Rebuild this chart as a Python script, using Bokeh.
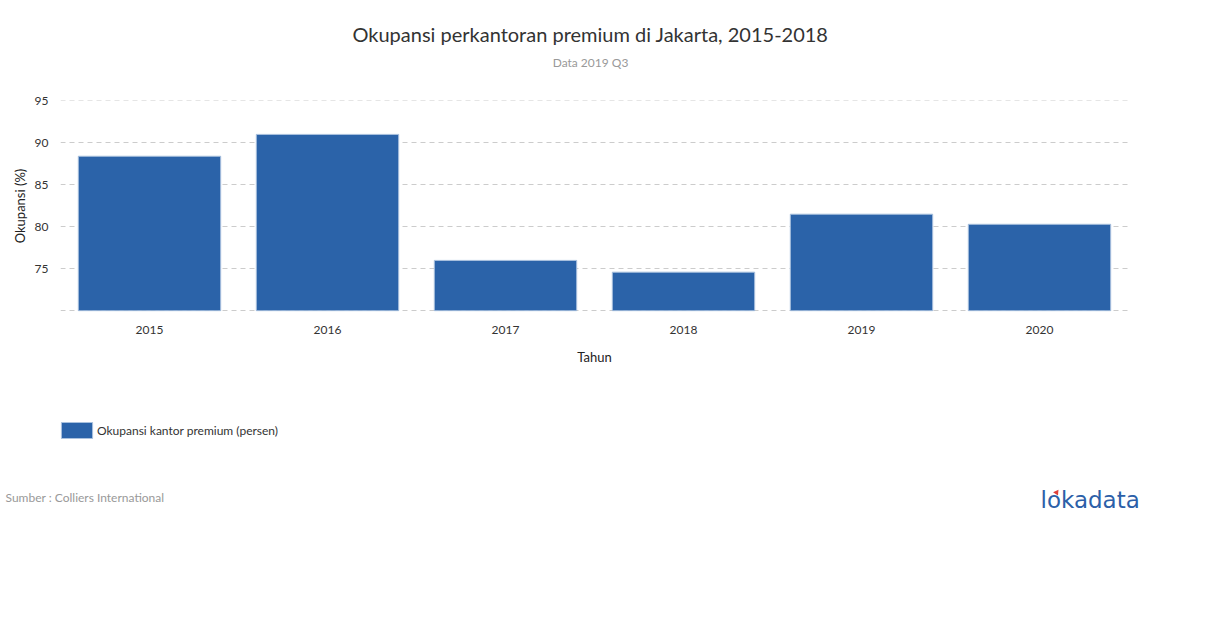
from bokeh.plotting import figure
from bokeh.models import Label, Legend, LegendItem, ColumnDataSource, FixedTicker
from bokeh.layouts import column
from bokeh.embed import file_html
from bokeh.resources import INLINE

years = ["2015", "2016", "2017", "2018", "2019", "2020"]
occupancy = [88.4, 91.0, 76.0, 74.6, 81.5, 80.3]
y_ticks = [70, 75, 80, 85, 90, 95]

FONT = "Lato"
BAR = "#2b63a9"
EDGE = "#a9c1de"
W = 1210

def text_fig(height, y0, y1):
    f = figure(width=W, height=height, x_range=(0, W), y_range=(y1, y0),
               x_axis_type=None, y_axis_type=None, output_backend="svg",
               toolbar_location=None, min_border=0,
               min_border_left=0, min_border_right=0, min_border_top=0, min_border_bottom=0)
    f.outline_line_color = None
    f.xgrid.grid_line_color = None
    f.ygrid.grid_line_color = None
    return f

def lab(f, x, y, text, size, color, align="left", font=FONT):
    f.add_layout(Label(x=x, y=y, text=text, text_font=font, text_font_size=size,
                       text_color=color, text_align=align, text_baseline="middle"))

# ---- top texts (page y 0..90)
top = text_fig(90, 0, 90)
lab(top, 590, 33, "Okupansi perkantoran premium di Jakarta, 2015-2018", "20px", "#333333", "center")
lab(top, 590, 62, "Data 2019 Q3", "12px", "#999999", "center")

# ---- chart (page y 90..391, frame 100..311)
src = ColumnDataSource(dict(x=years, top=occupancy))
p = figure(width=W, height=301, x_range=years, y_range=(69.917, 95.036),
           output_backend="svg", toolbar_location=None,
           min_border_left=60, min_border_right=W - 1128,
           min_border_top=10, min_border_bottom=80)
p.outline_line_color = None
p.vbar(x="x", top="top", bottom=70, width=0.8, source=src,
       fill_color=BAR, line_color=EDGE, line_width=1)

p.xgrid.grid_line_color = None
p.ygrid.grid_line_color = "#cccccc"
p.ygrid.grid_line_dash = "5 4"
p.ygrid.ticker = FixedTicker(ticks=y_ticks)

p.yaxis.ticker = FixedTicker(ticks=y_ticks)
p.yaxis.major_label_overrides = {70: ""}
for ax in (p.xaxis[0], p.yaxis[0]):
    ax.axis_line_color = None
    ax.major_tick_line_color = None
    ax.minor_tick_line_color = None
    ax.major_tick_out = 0
    ax.major_tick_in = 0
    ax.major_label_text_font = FONT
    ax.major_label_text_font_size = "12px"
    ax.major_label_text_color = "#333333"
    ax.axis_label_text_font = FONT
    ax.axis_label_text_font_size = "13px"
    ax.axis_label_text_font_style = "normal"
    ax.axis_label_text_color = "#222222"
p.yaxis.major_label_standoff = 12
p.xaxis.major_label_standoff = 14
p.yaxis.axis_label = "Okupansi (%)"
p.xaxis.axis_label = "Tahun"
p.yaxis.axis_label_standoff = 4
p.xaxis.axis_label_standoff = 12

# ---- bottom texts and legend (page y 391..628)
bot = text_fig(237, 391, 628)
swatch = bot.vbar(x=[5000], top=[5000], bottom=[4990], width=1,
                  fill_color=BAR, line_color=EDGE, line_width=1)
legend = Legend(items=[LegendItem(label="Okupansi kantor premium (persen)", renderers=[swatch])],
                location=(57, 188), glyph_width=39, glyph_height=20,
                label_text_font=FONT, label_text_font_size="12px", label_text_color="#333333",
                border_line_color=None, background_fill_alpha=0, padding=0, margin=0,
                label_standoff=1, label_height=20)
bot.add_layout(legend, "center")
lab(bot, 5, 497, "Sumber : Colliers International", "12px", "#999999")
lab(bot, 1040, 499, "lokadata", "23px", "#2c5fa8", "left", font="DejaVu Sans")
bot.scatter(x=[1056], y=[492], marker="triangle", size=6, angle=-0.6,
            fill_color="#e0413a", line_color=None)

layout = column(column(top), p, column(bot), spacing=0)
open("out.html", "w").write(file_html(layout, INLINE))
